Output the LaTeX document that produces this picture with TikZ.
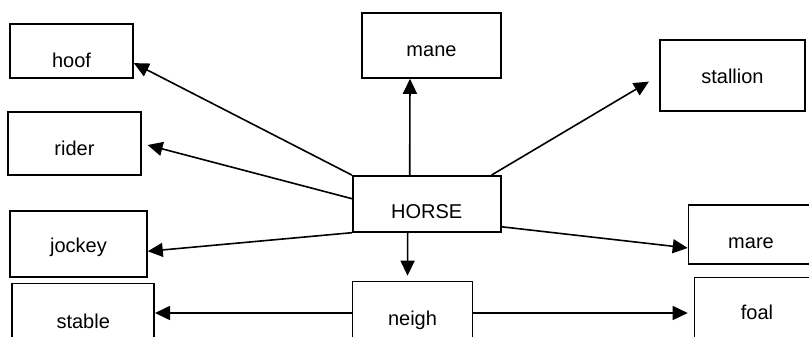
\documentclass[tikz,border=0pt]{standalone}
\usepackage{fontspec}
\setmainfont{Liberation Sans}
\usetikzlibrary{arrows.meta}
\tikzset{
  wbox/.style={draw, line width=1.6pt, text depth=0pt,
               font=\fontsize{20}{24}\selectfont},
  arr/.style={-{Triangle[length=15pt, width=14pt]}, line width=1.6pt},
}

\begin{document}
\begin{tikzpicture}[x=1pt, y=-1pt]
  \useasboundingbox (0,0) rectangle (809,337);
  \fill[white] (0,0) rectangle (809,337);
  \clip (0,0) rectangle (809,337);
  % Centre word
  \node[wbox, minimum width=148pt, minimum height=56pt, text height=28.8pt] (horse) at (426.7,203.9) {HORSE};
  % Left column
  \node[wbox, minimum width=123pt, minimum height=54pt, text height=33.4pt] (hoof)   at (71.5,51)    {hoof};
  \node[wbox, minimum width=133pt, minimum height=63pt, text height=23pt]   (rider)  at (74.5,143.5) {rider};
  \node[wbox, minimum width=137pt, minimum height=66pt, text height=17pt]   (jockey) at (78.5,244)   {jockey};
  \node[wbox, minimum width=142pt, minimum height=59pt, text height=30.6pt] (stable) at (83.2,313)   {stable};
  % Top and bottom
  \node[wbox, minimum width=139pt, minimum height=65pt, text height=22.4pt] (mane)  at (431.5,45.5) {mane};
  \node[wbox, minimum width=120pt, minimum height=63pt, text height=24pt]   (neigh) at (412.5,313)  {neigh};
  % Right column
  \node[wbox, minimum width=145pt, minimum height=71pt, text height=15.6pt] (stallion) at (732.5,75.5) {stallion};
  \node[wbox, minimum width=125pt, minimum height=59pt, text height=27.6pt] (mare)     at (751,234.5)  {mare};
  \node[wbox, minimum width=125pt, minimum height=71pt, text height=12.6pt] (foal)     at (757,313)    {foal};
  % Arrows out of HORSE
  \draw[arr] (horse.north west) -- (hoof.-11);
  \draw[arr, shorten >=6pt] (horse.176) -- (rider.east);
  \draw[arr] (horse.south west) -- (jockey.-6);
  \draw[arr] ([xshift=-17pt]horse.north) -- ([xshift=-21.5pt]mane.south);
  \draw[arr, shorten >=12pt] ([xshift=-10pt]horse.north east) -- (stallion.west);
  \draw[arr] (horse.-17) -- (mare.-168);
  \draw[arr, shorten >=5pt] ([xshift=-19pt]horse.south) -- ([xshift=-5pt]neigh.north);
  % Arrows out of neigh
  \draw[arr] (neigh) -- (stable);
  \draw[arr, shorten >=6pt] (neigh) -- (foal);
\end{tikzpicture}
\end{document}
